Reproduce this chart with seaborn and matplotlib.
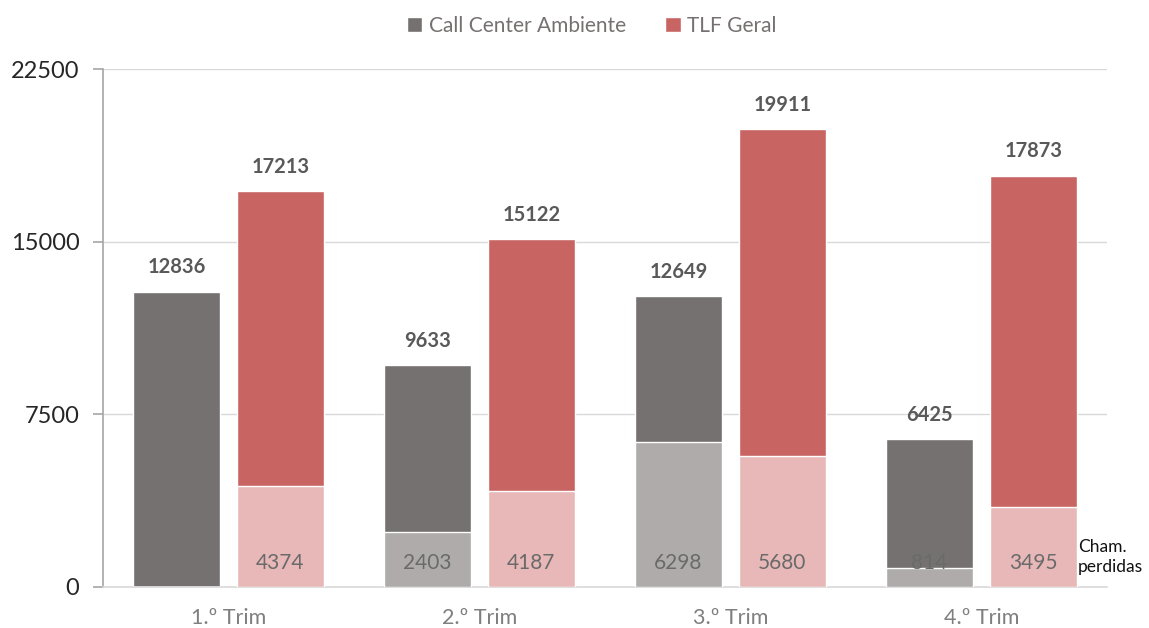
import matplotlib
matplotlib.use("Agg")
import matplotlib.pyplot as plt
import seaborn as sns
import pandas as pd
from matplotlib.patches import Patch

# Dados
trimestres = ["1.º Trim", "2.º Trim", "3.º Trim", "4.º Trim"]
series = ["Call Center Ambiente", "TLF Geral"]
total_cc = [12836, 9633, 12649, 6425]
total_tlf = [17213, 15122, 19911, 17873]
perdidas_cc = [0, 2403, 6298, 814]
perdidas_tlf = [4374, 4187, 5680, 3495]
y_ticks = [0, 7500, 15000, 22500]

cores_total = ["#767171", "#C86462"]
cores_perdidas = ["#AFABAB", "#E8B8B8"]

sns.set_theme(style="white")
plt.rcParams["font.family"] = ["Lato", "DejaVu Sans"]

df_total = pd.DataFrame({
    "trim": trimestres * 2,
    "serie": [series[0]] * 4 + [series[1]] * 4,
    "valor": total_cc + total_tlf,
})
df_perd = pd.DataFrame({
    "trim": trimestres * 2,
    "serie": [series[0]] * 4 + [series[1]] * 4,
    "valor": perdidas_cc + perdidas_tlf,
})

fig = plt.figure(figsize=(11.49, 6.28), dpi=100)
ax = fig.add_axes([0.0896, 0.0653, 0.8738, 0.8247])

sns.barplot(data=df_total, x="trim", y="valor", hue="serie", order=trimestres,
            hue_order=series, palette=cores_total, width=0.829, gap=0.163,
            saturation=1, legend=False, ax=ax, zorder=2)
n_total = len(ax.patches)
sns.barplot(data=df_perd, x="trim", y="valor", hue="serie", order=trimestres,
            hue_order=series, palette=cores_perdidas, width=0.829, gap=0.163,
            saturation=1, legend=False, ax=ax, zorder=3)

bars_total = ax.patches[:n_total]
bars_perd = ax.patches[n_total:]

for b in bars_total:
    h = b.get_height()
    ax.text(b.get_x() + b.get_width() / 2, h + 1050, f"{h:.0f}", ha="center",
            va="center", fontsize=14.5, fontweight="bold", color="#595959")

for b in bars_perd:
    h = b.get_height()
    if h > 0:
        ax.text(b.get_x() + b.get_width() / 2, 1040, f"{h:.0f}", ha="center",
                va="center", fontsize=15, color="#6a6a6a", zorder=4)

ax.text(3.384, 1300, "Cham.\nperdidas", ha="left", va="center", fontsize=12.5,
        color="#111111", linespacing=1.3, clip_on=False)

ax.set_xlim(-0.5, 3.5)
ax.set_ylim(0, 22500)
ax.set_yticks(y_ticks)
ax.set_yticklabels([str(t) for t in y_ticks])
ax.set_xlabel("")
ax.set_ylabel("")
ax.yaxis.grid(True, color="#d9d9d9", linewidth=1, zorder=0)
ax.set_axisbelow(True)
for s in ["top", "right"]:
    ax.spines[s].set_visible(False)
ax.spines["left"].set_color("#a6a6a6")
ax.spines["left"].set_linewidth(1.2)
ax.spines["bottom"].set_color("#d9d9d9")
ax.spines["bottom"].set_linewidth(1.2)
ax.tick_params(axis="y", which="both", left=True, length=7, width=1.2,
               color="#a6a6a6", labelsize=17, labelcolor="#262626", pad=10)
ax.tick_params(axis="x", bottom=False, labelsize=15.5, labelcolor="#7f7f7f", pad=9)

handles = [Patch(facecolor=c) for c in cores_total]
fig.legend(handles, series, loc="upper center", bbox_to_anchor=(0.515, 1.005), ncol=2,
           frameon=False, fontsize=15, labelcolor="#767171", handlelength=0.75,
           handleheight=0.75, handletextpad=0.3, columnspacing=1.9)

fig.savefig("out.png", dpi=100)
